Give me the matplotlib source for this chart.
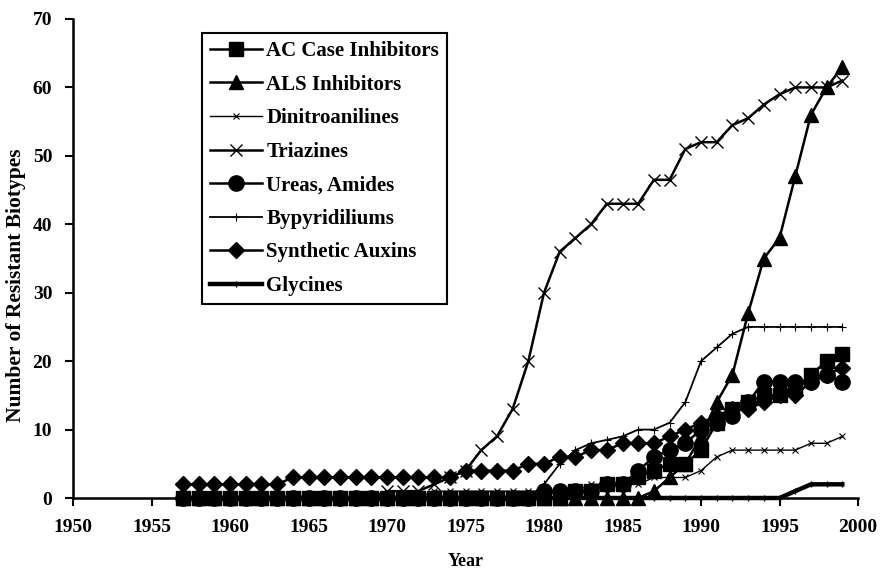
import matplotlib
matplotlib.use("Agg")
import matplotlib.pyplot as plt

years = list(range(1957, 2000))

def pad(start_year, vals):
    # zeros before start_year, then given values up to 1999
    return [0] * (start_year - 1957) + vals

ac_case = pad(1982, [1, 1, 2, 2, 3, 4, 5, 5, 7, 11, 13, 14, 15, 15, 16, 18, 20, 21])
als = pad(1987, [1, 3, 5, 9, 14, 18, 27, 35, 38, 47, 56, 60, 63])
dinitro = pad(1973, [1, 1, 1, 1, 1, 1, 1, 1, 1, 1, 2, 2, 2, 2, 3, 3, 3, 4, 6, 7, 7, 7, 7, 7, 8, 8, 9])
triazines = pad(1970, [1, 1, 1, 2, 3, 4, 7, 9, 13, 20, 30, 36, 38, 40, 43, 43, 43, 46.5, 46.5,
                       51, 52, 52, 54.5, 55.5, 57.5, 59, 60, 60, 60, 61])
ureas = pad(1980, [1, 1, 1, 1, 2, 2, 4, 6, 7, 8, 10, 11, 12, 14, 17, 17, 17, 17, 18, 17])
bypyr = pad(1980, [2, 5, 7, 8, 8.5, 9, 10, 10, 11, 14, 20, 22, 24, 25, 25, 25, 25, 25, 25, 25])
auxins = [2] * 7 + [3] * 11 + [4, 4, 4, 4, 5, 5, 6, 6, 7, 7, 8, 8, 8, 9, 10, 11, 12, 13, 13, 14,
                                15, 15, 17, 18, 19]
glycines = pad(1996, [1, 2, 2, 2])

series = [
    ("AC Case Inhibitors", ac_case, dict(marker="s", markersize=10, lw=1.8)),
    ("ALS Inhibitors", als, dict(marker="^", markersize=10, lw=1.8)),
    ("Dinitroanilines", dinitro, dict(marker="x", markersize=4, mew=0.8, lw=1.0)),
    ("Triazines", triazines, dict(marker="x", markersize=8, mew=1.0, lw=1.8)),
    ("Ureas, Amides", ureas, dict(marker="o", markersize=11, lw=1.8)),
    ("Bypyridiliums", bypyr, dict(marker="+", markersize=6, mew=0.8, lw=1.3)),
    ("Synthetic Auxins", auxins, dict(marker="D", markersize=8.5, lw=1.8)),
    ("Glycines", glycines, dict(marker="|", markersize=4, mew=1.0, lw=3.2)),
]

plt.rcParams["font.family"] = ["Liberation Serif", "DejaVu Serif"]

fig = plt.figure(figsize=(8.83, 5.74), dpi=100)
ax = fig.add_axes([0.0827, 0.1324, 0.8890, 0.8345])

for name, vals, st in series:
    ax.plot(years, vals, color="black", label=name, clip_on=False, **st)

ax.set_xlim(1950, 2000)
ax.set_ylim(0, 70)
ax.set_xticks(range(1950, 2001, 5))
ax.set_yticks(range(0, 71, 10))
for s in ["top", "right"]:
    ax.spines[s].set_visible(False)
for s in ["left", "bottom"]:
    ax.spines[s].set_linewidth(1.8)
ax.tick_params(direction="out", length=6, width=1.5, labelsize=14, pad=9)
for lab in ax.get_xticklabels() + ax.get_yticklabels():
    lab.set_fontweight("bold")

ax.set_xlabel("Year", fontsize=13, fontweight="bold", labelpad=12)
ax.set_ylabel("Number of Resistant Biotypes", fontsize=15.5, fontweight="bold")
ax.yaxis.set_label_coords(-0.06, 0.445)

leg = ax.legend(loc="upper left", bbox_to_anchor=(0.164, 0.971), borderaxespad=0,
                frameon=True, fancybox=False, edgecolor="black", framealpha=1,
                labelspacing=0.65, handlelength=2.5, handletextpad=0.2,
                borderpad=0.4, prop={"weight": "bold", "size": 15})
leg.get_frame().set_linewidth(1.5)

fig.savefig("out.png", dpi=100)
